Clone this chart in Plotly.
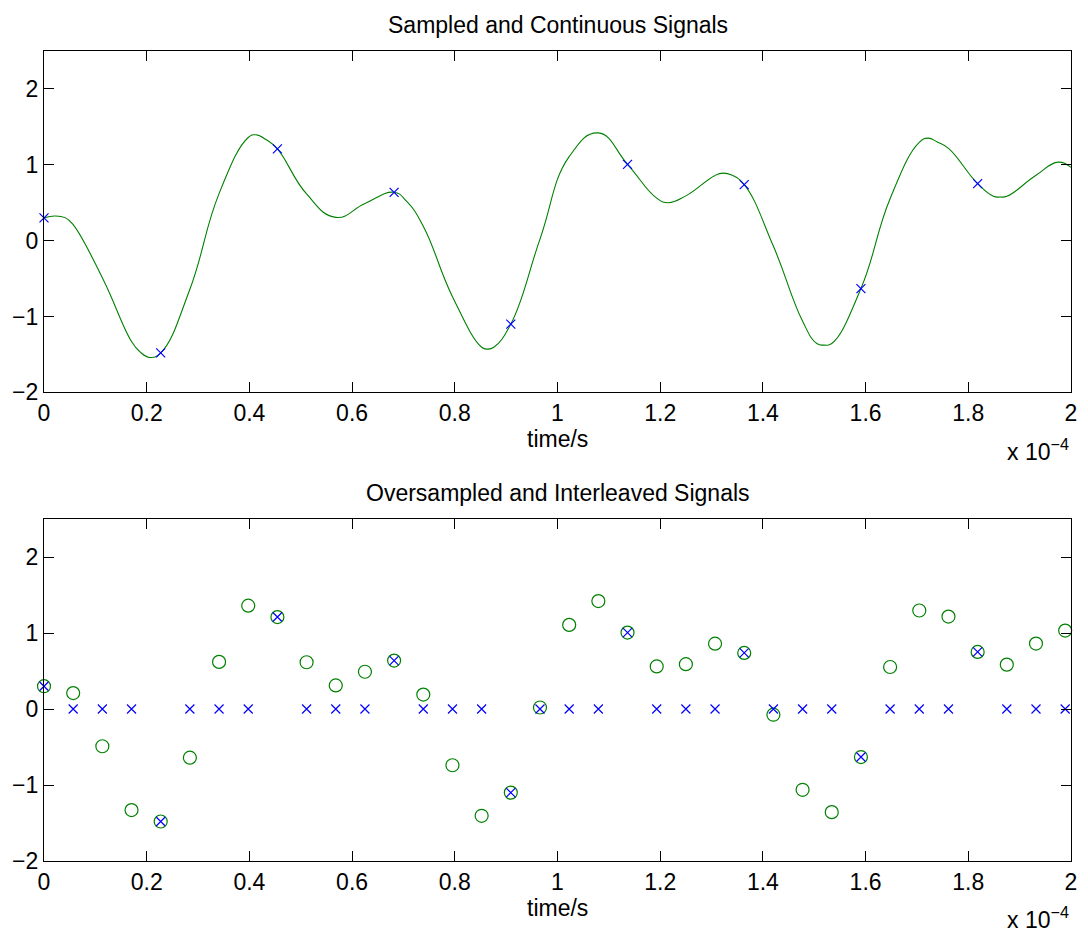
import plotly.graph_objects as go

# ---------------- data (time in units of 1e-4 s) ----------------
fs_over = 176000          # oversampled rate, Hz (4 x 44 kHz)
over_factor = 4

# oversampled signal values (green circles, bottom panel)
over_vals = [0.30, 0.21, -0.49, -1.33, -1.48, -0.64, 0.62, 1.36, 1.21, 0.615,
             0.31, 0.49, 0.637, 0.19, -0.74, -1.405, -1.10, 0.02, 1.107, 1.42,
             1.006, 0.56, 0.59, 0.86, 0.738, -0.075, -1.063, -1.357, -0.632, 0.553,
             1.296, 1.216, 0.751, 0.584, 0.861, 1.032]

# continuous signal
cont_t = [0.0, 0.021, 0.042, 0.0568, 0.1136, 0.1705, 0.186, 0.206, 0.2273, 0.2841,
          0.3409, 0.3977, 0.4125, 0.433, 0.4545, 0.5114, 0.5682, 0.625, 0.6818, 0.706,
          0.7386, 0.7955, 0.8523, 0.864, 0.876, 0.9091, 0.9659, 1.0227, 1.0795, 1.1364,
          1.1932, 1.2157, 1.25, 1.3068, 1.3228, 1.339, 1.3636, 1.4205, 1.4773, 1.505,
          1.5196, 1.5341, 1.5909, 1.6477, 1.7045, 1.722, 1.7395, 1.7614, 1.8182, 1.849,
          1.862, 1.875, 1.9318, 1.975, 2.0]
cont_v = [0.30, 0.325, 0.30, 0.21, -0.49, -1.33, -1.46, -1.54, -1.48, -0.64,
          0.62, 1.36, 1.395, 1.33, 1.21, 0.615, 0.307, 0.49, 0.637, 0.52,
          0.19, -0.74, -1.405, -1.43, -1.405, -1.10, 0.02, 1.107, 1.42, 1.006,
          0.56, 0.50, 0.59, 0.86, 0.89, 0.865, 0.738, -0.075, -1.063, -1.357,
          -1.377, -1.357, -0.632, 0.553, 1.296, 1.351, 1.30, 1.216, 0.751, 0.584,
          0.575, 0.584, 0.861, 1.035, 0.965]

x_ticks = [0, 0.2, 0.4, 0.6, 0.8, 1, 1.2, 1.4, 1.6, 1.8, 2]
y_ticks = [-2, -1, 0, 1, 2]
titles = ["Sampled and Continuous Signals", "Oversampled and Interleaved Signals"]
x_label = "time/s"
exp_label = "x 10<sup>\u22124</sup>"

# derived series
over_t = [n / fs_over * 1e4 for n in range(len(over_vals))]
samp_t = over_t[::over_factor]
samp_v = over_vals[::over_factor]
inter_v = [v if n % over_factor == 0 else 0 for n, v in enumerate(over_vals)]

GREEN = "#008000"
BLUE = "#0000FF"
FONT = "Liberation Sans, Arial, Helvetica, sans-serif"
FS = 23

fig = go.Figure()
fig.add_trace(go.Scatter(x=cont_t, y=cont_v, mode="lines",
                         line=dict(color=GREEN, width=1.1, shape="spline", smoothing=1.3),
                         xaxis="x", yaxis="y", showlegend=False))
fig.add_trace(go.Scatter(x=samp_t, y=samp_v, mode="markers",
                         marker=dict(symbol="x-thin", size=9, line=dict(color=BLUE, width=1.2)),
                         xaxis="x", yaxis="y", cliponaxis=False, showlegend=False))
fig.add_trace(go.Scatter(x=over_t, y=over_vals, mode="markers",
                         marker=dict(symbol="circle-open", size=13, color=GREEN,
                                     line=dict(color=GREEN, width=1.2)),
                         xaxis="x2", yaxis="y2", cliponaxis=False, showlegend=False))
fig.add_trace(go.Scatter(x=over_t, y=inter_v, mode="markers",
                         marker=dict(symbol="x-thin", size=9, line=dict(color=BLUE, width=1.2)),
                         xaxis="x2", yaxis="y2", cliponaxis=False, showlegend=False))

def xax(anchor):
    return dict(range=[0, 2], tickvals=x_ticks, showline=True, linecolor="black",
                linewidth=1.2, mirror="ticks", ticks="inside", ticklen=10,
                tickcolor="black", tickwidth=1, showgrid=False, zeroline=False,
                anchor=anchor, domain=[0, 1], tickfont=dict(size=FS, color="black"))

def yax(anchor, dom):
    return dict(range=[-2, 2.5], tickvals=y_ticks, showline=True, linecolor="black",
                linewidth=1.2, mirror="ticks", ticks="inside", ticklen=10,
                tickcolor="black", tickwidth=1, showgrid=False, zeroline=False,
                anchor=anchor, domain=dom, tickfont=dict(size=FS, color="black"))

annotations = []
for i, (xr, yr) in enumerate([("x domain", "y domain"), ("x2 domain", "y2 domain")]):
    annotations.append(dict(text=titles[i], xref=xr, yref=yr, x=0.5, y=1.0775,
                            xanchor="center", yanchor="middle", showarrow=False,
                            font=dict(size=FS, color="black")))
    annotations.append(dict(text=x_label, xref=xr, yref=yr, x=0.5, y=-0.137,
                            xanchor="center", yanchor="middle", showarrow=False,
                            font=dict(size=FS, color="black")))
    annotations.append(dict(text=exp_label, xref=xr, yref=yr, x=1.0, y=-0.168,
                            xanchor="right", yanchor="middle", showarrow=False,
                            font=dict(size=FS, color="black")))

fig.update_layout(
    width=1088, height=936,
    margin=dict(l=44, r=17, t=51, b=75),
    paper_bgcolor="white", plot_bgcolor="white",
    font=dict(family=FONT, size=FS, color="black"),
    xaxis=xax("y"), yaxis=yax("x", [0.5786, 1.0]),
    xaxis2=xax("y2"), yaxis2=yax("x2", [0.0, 0.4222]),
    annotations=annotations,
)

fig.write_html("out.html")
